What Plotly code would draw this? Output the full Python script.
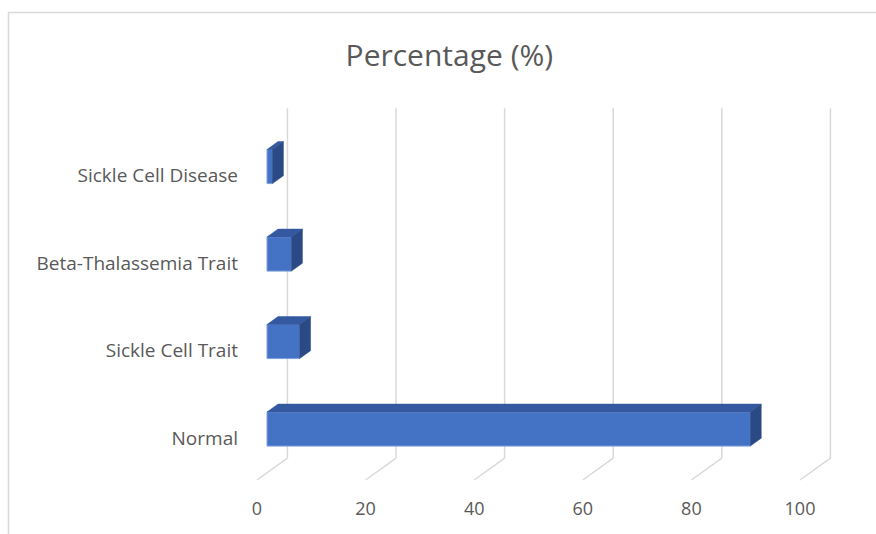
import plotly.graph_objects as go

# Data
categories = ["Normal", "Sickle Cell Trait", "Beta-Thalassemia Trait", "Sickle Cell Disease"]
percentages = [89, 6, 4.5, 1]
x_ticks = [0, 20, 40, 60, 80, 100]

# Oblique 3D projection (in data units)
DEPTH_X = 5.6      # horizontal shift from front plane to back wall (percent units)
DEPTH_Y = 0.25     # vertical shift from front plane to back wall (category units)
BAR_FRONT = 0.33   # depth fraction of the bar's front face
BAR_DEPTH = 0.36   # depth fraction covered by each bar
BAR_HALF = 0.195   # half height of bar front face (category units)

FRONT = "#4472C4"
TOP = "#3559A0"
SIDE = "#2B4A85"
GRID = "#D9D9D9"
TEXT = "#595959"
FONT = "Open Sans"

fig = go.Figure()
n_cat = len(categories)

# Back wall vertical gridlines and floor diagonals, kept beneath the bars
for t in x_ticks:
    fig.add_shape(type="line", xref="x", yref="y", x0=t + DEPTH_X, x1=t + DEPTH_X,
                  y0=DEPTH_Y, y1=n_cat + DEPTH_Y, line=dict(color=GRID, width=1.5), layer="below")
    fig.add_shape(type="line", xref="x", yref="y", x0=t, x1=t + DEPTH_X,
                  y0=0, y1=DEPTH_Y, line=dict(color=GRID, width=1.5), layer="below")

# Bars: front face, top face, side face
ox = BAR_FRONT * DEPTH_X
oy = BAR_FRONT * DEPTH_Y
dx = BAR_DEPTH * DEPTH_X
dy = BAR_DEPTH * DEPTH_Y
centers = [i + 0.5 + oy for i in range(n_cat)]

fig.add_trace(go.Bar(x=percentages, y=centers, base=ox, orientation="h", width=2 * BAR_HALF,
                     marker=dict(color=FRONT, line=dict(color="#7F9FDA", width=1)),
                     showlegend=False))

for yc, v in zip(centers, percentages):
    top_x = [ox, ox + v, ox + v + dx, ox + dx, ox]
    top_y = [yc + BAR_HALF, yc + BAR_HALF, yc + BAR_HALF + dy, yc + BAR_HALF + dy, yc + BAR_HALF]
    fig.add_trace(go.Scatter(x=top_x, y=top_y, fill="toself", fillcolor=TOP, mode="lines",
                             line=dict(color=TOP, width=0.5), hoverinfo="skip", showlegend=False))
    side_x = [ox + v, ox + v + dx, ox + v + dx, ox + v, ox + v]
    side_y = [yc - BAR_HALF, yc - BAR_HALF + dy, yc + BAR_HALF + dy, yc + BAR_HALF, yc - BAR_HALF]
    fig.add_trace(go.Scatter(x=side_x, y=side_y, fill="toself", fillcolor=SIDE, mode="lines",
                             line=dict(color=SIDE, width=0.5), hoverinfo="skip", showlegend=False))

# Layout geometry
L, R, T, B = 245, 36, 100, 44
W, H = 876, 534
px_per_x = 5.43
px_per_y = 87.5
floor_px_x = 257   # front-plane zero, pixels from left
floor_px_y = 480   # front-plane floor, pixels from top
x0 = (L - floor_px_x) / px_per_x
x1 = (W - R - floor_px_x) / px_per_x
y0 = (floor_px_y - (H - B)) / px_per_y
y1 = (floor_px_y - T) / px_per_y

pw, ph = W - L - R, H - T - B
fig.add_shape(type="rect", xref="paper", yref="paper",
              x0=(8.5 - L) / pw, x1=(W + 5 - L) / pw,
              y0=((H - B) - (H + 5)) / ph, y1=((H - B) - 12.5) / ph,
              line=dict(color=GRID, width=1.5), fillcolor="rgba(0,0,0,0)", layer="below")

fig.update_layout(
    width=W, height=H,
    margin=dict(l=L, r=R, t=T, b=B),
    paper_bgcolor="white", plot_bgcolor="white",
    title=dict(text="Percentage (%)", x=0.513, xanchor="center", y=1 - 55 / H, yanchor="middle",
               yref="container", font=dict(family=FONT, size=30, color=TEXT)),
    barmode="overlay",
    xaxis=dict(range=[x0, x1], tickvals=x_ticks, ticktext=[str(t) for t in x_ticks],
               showgrid=False, zeroline=False, showline=False, ticks="",
               tickfont=dict(family=FONT, size=18, color=TEXT), ticklabelstandoff=6),
    yaxis=dict(range=[y0, y1], tickvals=[i + 0.48 for i in range(n_cat)], ticktext=categories,
               showgrid=False, zeroline=False, showline=False, ticks="",
               tickfont=dict(family=FONT, size=19, color=TEXT), ticklabelstandoff=6),
)

fig.write_html("out.html")
